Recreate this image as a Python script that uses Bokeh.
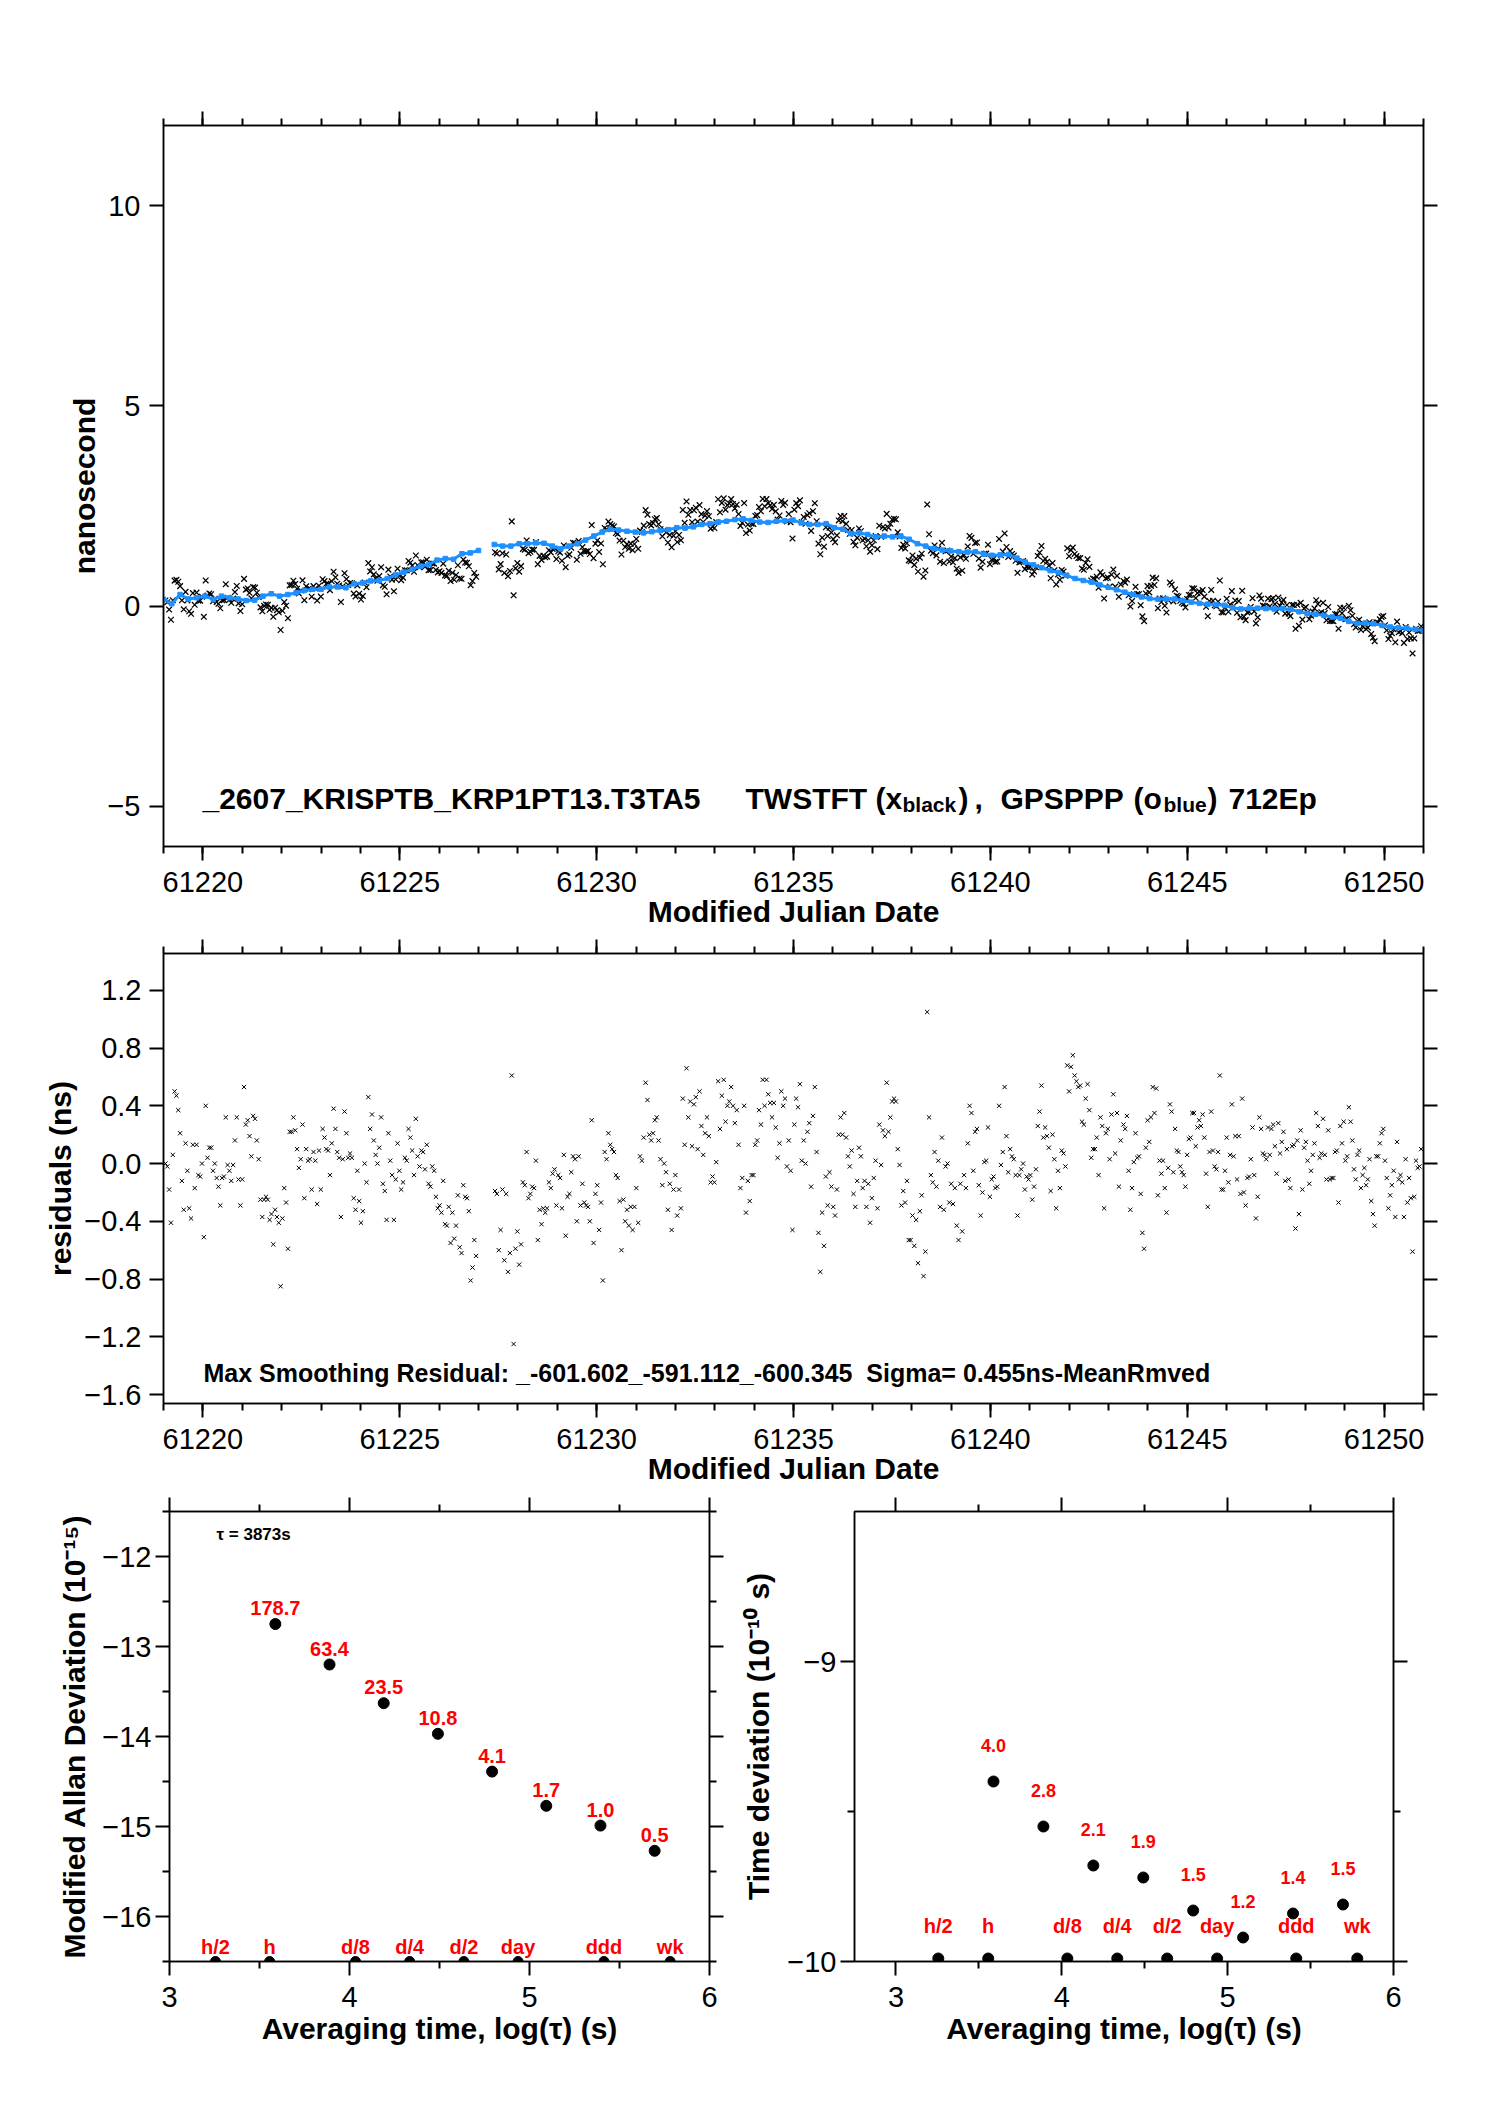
import numpy as np
from bokeh.plotting import figure
from bokeh.models import Range1d, LinearAxis, FixedTicker, Label
from bokeh.layouts import column, row
from bokeh.embed import file_html
from bokeh.resources import INLINE
from bokeh.core.properties import value

FONT = "Liberation Sans"
BLUE = "#1e90ff"
RED = "#ff0000"

# ---------------- data ----------------
# GPSPPP curve (ns), two stretches either side of the gap
gps1_span = (61219.0, 61227.0)
gps1 = [0.17, 0.06, 0.29, 0.18, 0.21, 0.25, 0.17, 0.25, 0.21, 0.18, 0.14, 0.15, 0.25,
        0.31, 0.25, 0.29, 0.33, 0.39, 0.42, 0.42, 0.48, 0.48, 0.46, 0.56, 0.58, 0.63,
        0.64, 0.69, 0.78, 0.85, 0.92, 1.00, 1.04, 1.15, 1.19, 1.17, 1.31, 1.33, 1.39]
gps2_span = (61227.4, 61251.0)
gps2 = [1.54, 1.50, 1.50, 1.56, 1.56, 1.58, 1.57, 1.50, 1.43, 1.50, 1.56, 1.65, 1.75,
        1.85, 1.92, 1.90, 1.87, 1.85, 1.83, 1.86, 1.89, 1.91, 1.96, 1.95, 1.98, 2.04,
        2.06, 2.10, 2.12, 2.16, 2.18, 2.14, 2.10, 2.09, 2.12, 2.13,
        2.15, 2.08, 2.04, 2.04, 2.06, 1.96, 1.92, 1.81, 1.83, 1.79, 1.73, 1.75, 1.73,
        1.75, 1.67, 1.56, 1.50, 1.44, 1.40, 1.38, 1.36, 1.35, 1.36, 1.30, 1.27, 1.28,
        1.29, 1.20, 1.10, 1.03, 0.96, 0.89, 0.84, 0.77, 0.69, 0.64, 0.60, 0.53, 0.47,
        0.41, 0.35, 0.29, 0.23, 0.19, 0.17, 0.18, 0.18, 0.14, 0.10, 0.07, 0.05, 0.04,
        0.02, -0.04, -0.07, -0.05, -0.05, -0.06, -0.07, -0.06, -0.08, -0.14, -0.18,
        -0.20, -0.23, -0.27, -0.30, -0.38, -0.43, -0.42, -0.44, -0.48, -0.52, -0.54,
        -0.55, -0.58, -0.61]

# TWSTFT - GPSPPP residuals (ns), four stretches
res_a_span = (61219.05, 61226.94)
res_a = [0.00, -0.02, -0.18, -0.41, 0.06, 0.50, 0.47, 0.37, 0.21, -0.12, -0.32, 0.14, -0.05,
         -0.31, -0.38, 0.13, -0.17, 0.13, -0.08, -0.09, 0.00, -0.51, 0.40, 0.04, 0.11, 0.11,
         -0.05, 0.00, -0.10, -0.16, -0.29, -0.10, -0.09, 0.32, -0.01, -0.05, -0.12, -0.01,
         0.16, 0.32, -0.11, -0.29, -0.11, 0.53, 0.27, 0.30, 0.19, 0.05, 0.33, 0.31, 0.16,
         0.03, -0.25, -0.37, -0.25, -0.23, -0.25, -0.39, -0.35, -0.56, -0.32, -0.37, -0.41,
         -0.85, -0.38, -0.17, -0.27, -0.59, 0.22, 0.22, 0.32, 0.23, 0.10, -0.03, 0.03, 0.27,
         -0.24, 0.10, 0.02, 0.03, -0.18, 0.08, 0.02, -0.28, 0.09, -0.18, 0.24, 0.18, 0.10,
         0.09, -0.08, 0.14, 0.38, 0.24, 0.08, 0.04, -0.37, 0.03, 0.36, 0.21, 0.04, 0.07,
         0.04, -0.24, -0.32, -0.05, -0.26, -0.41, -0.33, 0.00, -0.13, 0.46, 0.24, 0.34,
         0.16, 0.06, 0.00, 0.11, 0.32, -0.14, -0.19, -0.39, 0.21, 0.02, -0.08, -0.39, -0.11,
         0.14, -0.05, -0.18, -0.13, 0.04, 0.02, 0.24, 0.18, 0.09, -0.08, 0.31, 0.05, -0.02,
         0.09, 0.08, -0.04, 0.13, -0.14, -0.16, -0.02, -0.05, -0.23, -0.31, -0.29, -0.34,
         -0.12, -0.42, -0.43, -0.30, -0.55, -0.34, -0.52, -0.43, -0.22, -0.58, -0.62, -0.15,
         -0.23, -0.24, -0.33, -0.81, -0.72, -0.53, -0.64]
res_b_span = (61227.42, 61235.21)
res_b = [-0.19, -0.21, -0.60, -0.46, -0.18, -0.67, -0.21, -0.75, -0.62, 0.61, -1.25, -0.59,
         -0.47, -0.70, -0.56, -0.13, -0.15, 0.08, -0.24, -0.21, -0.16, -0.17, 0.02, -0.53,
         -0.32, -0.42, -0.31, -0.34, -0.31, -0.13, -0.17, -0.07, -0.04, -0.29, -0.08, -0.10,
         -0.31, 0.06, -0.50, -0.23, -0.21, -0.06, 0.05, 0.03, -0.40, 0.05, -0.29, -0.14,
         -0.27, -0.29, -0.30, -0.40, 0.30, -0.55, -0.21, -0.15, -0.46, -0.27, -0.81, 0.08,
         0.03, 0.21, 0.13, 0.10, 0.08, -0.08, -0.10, -0.26, -0.60, -0.25, -0.40, -0.32,
         -0.43, -0.30, -0.46, -0.30, -0.17, -0.41, 0.05, 0.02, 0.18, 0.56, 0.44, 0.20, 0.16,
         0.21, 0.30, 0.32, 0.16, 0.03, -0.15, 0.00, -0.06, -0.32, -0.14, -0.46, -0.18, -0.08,
         -0.36, -0.18, -0.31, 0.45, 0.13, 0.66, 0.32, 0.43, 0.12, 0.41, 0.46, 0.10, 0.50,
         0.26, 0.06, 0.21, 0.32, 0.19, -0.13, -0.09, -0.13, 0.01, 0.57, 0.24, 0.47, 0.58,
         0.29, 0.40, 0.43, 0.53, 0.40, 0.28, 0.37, 0.13, -0.17, -0.10, 0.40, -0.34, -0.12,
         -0.26, -0.08, -0.08, 0.13, 0.16, 0.37, 0.27, 0.58, 0.40, 0.58, 0.48, 0.42, 0.32,
         0.42, 0.25, 0.04, 0.14, 0.50, 0.40, 0.45, -0.02, 0.16, -0.05, -0.46, 0.27, 0.45,
         0.39, 0.55, 0.02]
res_c_span = (61235.26, 61243.31)
res_c = [0.16, 0.00, 0.22, 0.28, -0.16, 0.33, 0.53, 0.08, -0.48, -0.75, -0.34, -0.57, -0.09,
         -0.29, -0.06, -0.16, -0.30, -0.36, -0.18, 0.20, 0.32, 0.20, 0.35, 0.18, 0.05, -0.02,
         0.09, -0.21, -0.30, -0.12, 0.11, 0.05, -0.17, -0.12, -0.30, -0.14, -0.41, -0.24,
         -0.10, 0.02, -0.31, 0.27, -0.01, 0.23, 0.19, 0.56, 0.22, 0.32, 0.43, 0.45, 0.43,
         0.10, -0.01, -0.29, -0.19, -0.27, -0.12, -0.53, -0.53, -0.36, -0.57, -0.39, -0.69,
         -0.33, -0.22, -0.78, -0.61, 1.05, 0.32, -0.08, -0.13, 0.08, -0.16, 0.02, -0.30,
         0.18, -0.32, -0.02, 0.00, -0.27, -0.14, -0.28, -0.17, -0.43, -0.53, -0.14, -0.47,
         -0.08, -0.17, 0.14, 0.40, 0.35, -0.05, 0.22, 0.24, -0.15, -0.36, -0.20, 0.01, 0.02,
         0.25, -0.23, -0.11, -0.09, -0.17, -0.16, 0.40, -0.01, 0.08, 0.53, 0.19, -0.06,
         0.10, 0.05, 0.03, -0.08, -0.36, -0.08, -0.04, 0.00, -0.18, -0.09, -0.11, -0.08,
         -0.25, -0.16, -0.04, 0.26, 0.36, 0.54, 0.18, 0.25, 0.19, 0.11, -0.19, 0.20, 0.03,
         -0.31, -0.05, -0.17, 0.09, 0.07, -0.02, 0.68, 0.50, 0.67, 0.75, 0.61, 0.57, 0.53,
         0.54, 0.29, 0.27, 0.45, 0.55, 0.37, 0.04, 0.10, 0.10, 0.18, -0.08, 0.32, 0.26,
         -0.31, 0.21, 0.24, 0.03, 0.34, 0.48, 0.07, 0.35, -0.16, 0.16]
res_d_span = (61243.38, 61250.94)
res_d = [0.27, 0.24, 0.33, -0.05, -0.32, -0.17, 0.01, 0.21, 0.04, 0.05, -0.21, -0.48, -0.59,
         0.11, 0.30, 0.15, 0.32, 0.53, 0.35, 0.52, -0.22, 0.02, -0.07, 0.02, -0.17, -0.34,
         -0.03, 0.41, 0.36, -0.06, 0.24, 0.09, 0.08, -0.02, -0.06, -0.08, -0.16, 0.06, 0.17,
         0.18, 0.35, 0.35, 0.12, 0.25, 0.30, 0.26, 0.34, 0.18, -0.07, -0.30, 0.08, 0.36,
         0.09, -0.02, -0.04, 0.08, 0.61, -0.18, -0.18, -0.05, 0.18, -0.13, 0.06, 0.41, 0.05,
         0.19, -0.11, 0.19, -0.21, 0.45, -0.20, -0.29, -0.10, -0.09, 0.03, 0.25, -0.08,
         -0.38, -0.23, 0.32, 0.24, 0.07, 0.06, 0.03, 0.25, 0.06, 0.24, 0.27, 0.12, -0.07,
         0.28, 0.07, 0.15, 0.22, -0.12, 0.10, -0.11, -0.17, 0.12, 0.13, -0.45, 0.16, -0.35,
         0.23, -0.18, 0.11, 0.15, 0.02, -0.14, -0.05, 0.06, 0.14, 0.35, 0.26, 0.04, 0.07,
         0.31, 0.06, -0.11, 0.23, -0.11, -0.10, -0.10, 0.08, 0.09, -0.27, 0.26, 0.14, 0.29,
         0.02, 0.05, 0.39, 0.29, 0.16, -0.04, -0.11, 0.06, 0.09, -0.17, -0.08, -0.03, -0.15,
         -0.11, 0.03, -0.26, -0.35, -0.43, 0.05, 0.05, 0.14, 0.21, 0.24, 0.02, -0.10, -0.31,
         -0.22, -0.15, -0.05, -0.37, 0.15, -0.11, -0.08, -0.13, -0.37, 0.03, -0.27, -0.10,
         -0.24, -0.61, -0.23, 0.02, -0.03, -0.02, 0.10]

# stability: averaging times (s) and log values
tau_s = [3873, 7746, 15492, 30984, 61968, 123936, 247872, 495744]
mdev_log = [-12.75, -13.20, -13.63, -13.97, -14.39, -14.77, -14.99, -15.27]
mdev_lab = ["178.7", "63.4", "23.5", "10.8", "4.1", "1.7", "1.0", "0.5"]
tdev_log = [-9.40, -9.55, -9.68, -9.72, -9.83, -9.92, -9.84, -9.81]
tdev_lab = ["4.0", "2.8", "2.1", "1.9", "1.5", "1.2", "1.4", "1.5"]
mark_s = [1800, 3600, 10800, 21600, 43200, 86400, 259200, 604800]
mark_lab = ["h/2", "h", "d/8", "d/4", "d/2", "day", "ddd", "wk"]
mark_y_mdev = -16.5
mark_y_tdev = -9.99

# ---------------- derived series ----------------
def spread(span, vals):
    return np.linspace(span[0], span[1], len(vals))

g1_t, g2_t = spread(gps1_span, gps1), spread(gps2_span, gps2)
gps_t = np.concatenate([g1_t, g2_t])
gps_v = np.concatenate([gps1, gps2])
gps_line_t = np.concatenate([g1_t, [np.nan], g2_t])
gps_line_v = np.concatenate([gps1, [np.nan], gps2])

res_t = np.concatenate([spread(res_a_span, res_a), spread(res_b_span, res_b),
                        spread(res_c_span, res_c), spread(res_d_span, res_d)])
res_v = np.concatenate([res_a, res_b, res_c, res_d])
twstft = np.interp(res_t, gps_t, gps_v) + res_v

tau_x = np.log10(tau_s)
mark_x = np.log10(mark_s)

# ---------------- helpers ----------------
def make_fig(w, h, borders, xr, yr):
    l, r, t, b = borders
    p = figure(width=w, height=h, x_range=Range1d(*xr), y_range=Range1d(*yr),
               x_axis_type=None, y_axis_type=None, toolbar_location=None,
               output_backend="svg", min_border_left=l, min_border_right=r,
               min_border_top=t, min_border_bottom=b)
    p.outline_line_color = "black"
    p.outline_line_width = 1.5
    p.background_fill_color = "white"
    p.border_fill_color = "white"
    return p


def add_axis(p, loc, ticks, minor, labels=None, standoff=10, title=None, title_standoff=0):
    ax = LinearAxis(ticker=FixedTicker(ticks=ticks, minor_ticks=minor))
    ax.axis_line_color = "black"
    ax.axis_line_width = 1.5
    ax.major_tick_line_color = "black"
    ax.minor_tick_line_color = "black"
    ax.major_tick_line_width = 2
    ax.minor_tick_line_width = 2
    ax.major_tick_in = 0
    ax.major_tick_out = 14
    ax.minor_tick_in = 0
    ax.minor_tick_out = 7
    ax.major_label_text_font = FONT
    ax.major_label_text_color = "black"
    if labels is None:
        ax.major_label_text_font_size = "0px"
        ax.major_label_standoff = 0
        ax.major_label_overrides = {t: "" for t in ticks}
    else:
        ax.major_label_text_font_size = "29px"
        ax.major_label_standoff = standoff
        ax.major_label_overrides = dict(zip(ticks, labels))
    if title:
        ax.axis_label = title
        ax.axis_label_text_font = FONT
        ax.axis_label_text_font_size = "30px"
        ax.axis_label_text_font_style = "bold"
        ax.axis_label_text_color = "black"
        ax.axis_label_standoff = title_standoff
    p.add_layout(ax, loc)


def put(p, fr, xr, yr, rx, ry, text, size, **kw):
    # place a text label inside the frame at a page-pixel position
    fl, ft, fw, fh = fr
    x = xr[0] + (rx - fl) / fw * (xr[1] - xr[0])
    y = yr[1] - (ry - ft) / fh * (yr[1] - yr[0])
    opts = dict(text_font=FONT, text_font_size=f"{size}px", text_font_style="bold",
                text_color="black", text_align="left", text_baseline="alphabetic")
    opts.update(kw)
    p.add_layout(Label(x=x, y=y, text=text, **opts))


def mlab(t, fmt):
    s = fmt.format(abs(t))
    return ("\u2212" + s) if t < 0 else s


# ---------------- top: time series ----------------
X_RANGE = (61219, 61251)
day_major = [61220, 61225, 61230, 61235, 61240, 61245, 61250]
day_minor = list(range(61219, 61252))
day_labels = [str(d) for d in day_major]

TOP_Y = (-6, 12)
TOP_FR = (163, 125, 1260, 721)
top = make_fig(1480, 939, (163, 57, 125, 93), X_RANGE, TOP_Y)
ty = [-5, 0, 5, 10]
add_axis(top, "below", day_major, day_minor, day_labels, 11,
         title="Modified Julian Date", title_standoff=0)
add_axis(top, "above", day_major, day_minor)
add_axis(top, "left", ty, [], [mlab(t, "{:g}") for t in ty], 9,
         title="nanosecond", title_standoff=3)
add_axis(top, "right", ty, [])

top.scatter(res_t, twstft, marker="x", size=8, line_color="black", line_width=1.25)
top.line(gps_line_t, gps_line_v, line_color=BLUE, line_width=3)
top.scatter(gps_t, gps_v, marker="square", size=4.5, fill_color=BLUE, line_color=BLUE)

BASE = 798
put(top, TOP_FR, X_RANGE, TOP_Y, 202, BASE, "_2607_KRISPTB_KRP1PT13.T3TA5", 30)
for piece, rx, size, drop in [("TWSTFT", 745, 30, 0), ("(x", 875, 30, 0),
                              ("black", 902, 21, 6), (")", 958, 30, 0), (",", 974, 30, 0),
                              ("GPSPPP", 1000, 30, 0), ("(o", 1133, 30, 0),
                              ("blue", 1163, 21, 6), (")", 1207, 30, 0),
                              ("712Ep", 1228, 30, 0)]:
    put(top, TOP_FR, X_RANGE, TOP_Y, rx, BASE + drop, piece, size)

# ---------------- middle: residuals ----------------
MID_Y = (-1.662, 1.455)
MID_FR = (163, 953, 1260, 450)
mid = make_fig(1480, 558, (163, 57, 14, 94), X_RANGE, MID_Y)
my = [-1.6, -1.2, -0.8, -0.4, 0.0, 0.4, 0.8, 1.2]
add_axis(mid, "below", day_major, day_minor, day_labels, 11,
         title="Modified Julian Date", title_standoff=0)
add_axis(mid, "above", day_major, day_minor)
add_axis(mid, "left", my, [], [mlab(t, "{:.1f}") for t in my], 8,
         title="residuals (ns)", title_standoff=4)
add_axis(mid, "right", my, [])

mid.scatter(res_t, res_v, marker="x", size=6, line_color="black", line_width=1)

put(mid, MID_FR, X_RANGE, MID_Y, 203, 1372,
    "Max Smoothing Residual: _-601.602_-591.112_-600.345 \u00a0Sigma= 0.455ns-MeanRmved", 25)

# ---------------- bottom left: modified Allan deviation ----------------
BL_X = (3, 6)
BL_Y = (-16.5, -11.5)
BL_FR = (169, 1511, 540, 450)
bl = make_fig(734, 584, (169, 25, 14, 120), BL_X, BL_Y)
lx, lxm = [3, 4, 5, 6], [3.5, 4.5, 5.5]
bly = [-16, -15, -14, -13, -12]
blym = [-16.5, -15.5, -14.5, -13.5, -12.5, -11.5]
add_axis(bl, "below", lx, lxm, [str(v) for v in lx], 11,
         title="Averaging time, log(\u03c4) (s)", title_standoff=2)
add_axis(bl, "above", lx, lxm)
add_axis(bl, "left", bly, blym, [mlab(t, "{:g}") for t in bly], 4,
         title="Modified Allan Deviation (10\u207b\u00b9\u2075)", title_standoff=8)
add_axis(bl, "right", bly, blym)

bl.scatter(tau_x, mdev_log, size=11, color="black")
bl.text(tau_x, mdev_log, text=mdev_lab, y_offset=-16, text_align="center",
        text_baseline="middle", text_font=value(FONT), text_font_style="bold",
        text_font_size="20px", text_color=RED)
bl.scatter(mark_x, [mark_y_mdev] * len(mark_x), size=10, color="black")
bl.text(mark_x, [mark_y_mdev] * len(mark_x), text=mark_lab, y_offset=-15,
        text_align="center", text_baseline="middle", text_font=value(FONT),
        text_font_style="bold", text_font_size="20px", text_color=RED)

put(bl, BL_FR, BL_X, BL_Y, 216, 1534, "\u03c4 = 3873s", 17)

# ---------------- bottom right: time deviation ----------------
BR_X = (2.75, 6)
BR_Y = (-10, -8.5)
BR_FR = (854, 1511, 539, 450)
br = make_fig(689, 584, (120, 30, 14, 120), BR_X, BR_Y)
bry = [-10, -9]
add_axis(br, "below", lx, lxm, [str(v) for v in lx], 11,
         title="Averaging time, log(\u03c4) (s)", title_standoff=2)
add_axis(br, "above", lx, lxm)
add_axis(br, "left", bry, [-9.5], [mlab(t, "{:g}") for t in bry], 4,
         title="Time deviation (10\u207b\u00b9\u2070 s)", title_standoff=9)
add_axis(br, "right", bry, [-9.5])

br.scatter(tau_x, tdev_log, size=11, color="black")
br.text(tau_x, tdev_log, text=tdev_lab, y_offset=-36, text_align="center",
        text_baseline="middle", text_font=value(FONT), text_font_style="bold",
        text_font_size="18px", text_color=RED)
br.scatter(mark_x, [mark_y_tdev] * len(mark_x), size=11, color="black")
br.text(mark_x, [mark_y_tdev] * len(mark_x), text=mark_lab, y_offset=-33,
        text_align="center", text_baseline="middle", text_font=value(FONT),
        text_font_style="bold", text_font_size="20px", text_color=RED)

layout = column(top, mid, row(bl, br))
open("out.html", "w").write(file_html(layout, INLINE))
